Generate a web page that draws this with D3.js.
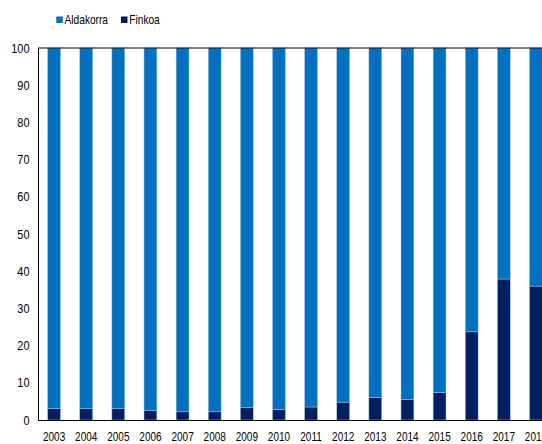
<!DOCTYPE html>
<html><head><meta charset="utf-8">
<script src="https://cdn.jsdelivr.net/npm/d3@7"></script>
<style>body{margin:0;background:#fff}svg{display:block}text{font-family:"Liberation Sans",Arial,sans-serif;font-size:13px;fill:#000}</style>
</head><body><svg id="c" width="542" height="444"></svg>
<script>
const years = ["2003","2004","2005","2006","2007","2008","2009","2010","2011","2012","2013","2014","2015","2016","2017","2018"];
const finkoa = [3.1,3.1,3.1,2.5,2.2,2.2,3.3,2.8,3.5,4.8,6.1,5.5,7.4,23.7,37.9,36.0];
const aldakorra = finkoa.map(v => 100 - v);
const seriesNames = ["Aldakorra","Finkoa"];
const colors = {Aldakorra:"#0070C0", Finkoa:"#002060"};
const yTicks = [0,10,20,30,40,50,60,70,80,90,100];

const svg = d3.select("#c");
const mLeft = 38, mTop = 48, mBottom = 420, mRight = 552;
const x = d3.scaleBand().domain(years).range([mLeft, mRight]).paddingInner(0.6).paddingOuter(0.3);
const y = d3.scaleLinear().domain([0,100]).range([mBottom, mTop]);

const rows = years.map((yr,i)=>({year:yr, Finkoa:finkoa[i], Aldakorra:aldakorra[i]}));
const stack = d3.stack().keys(["Finkoa","Aldakorra"])(rows);

svg.append("g").selectAll("g").data(stack).join("g")
  .attr("fill", d => colors[d.key])
  .selectAll("rect").data(d => d).join("rect")
  .attr("x", d => x(d.data.year))
  .attr("width", x.bandwidth())
  .attr("y", d => y(d[1]))
  .attr("height", d => y(d[0]) - y(d[1]))
  .attr("stroke", "#9cc3e6").attr("stroke-width", 0.5);

// frame
svg.append("line").attr("x1",mLeft).attr("x2",mRight).attr("y1",mTop).attr("y2",mTop).attr("stroke","#000").attr("stroke-width",1);
const yAxis = svg.append("g").attr("transform",`translate(${mLeft},0)`)
  .call(d3.axisLeft(y).tickValues(yTicks).tickSize(0).tickPadding(8.5));
yAxis.select(".domain").attr("stroke","#000");

const xAxis = svg.append("g").attr("transform",`translate(0,${mBottom})`)
  .call(d3.axisBottom(x).tickSize(0).tickPadding(12));
xAxis.select(".domain").attr("stroke","#000");

// legend
const legend = svg.append("g").attr("class","legend");
const lx = [56.3, 121];
seriesNames.forEach((s,i)=>{
  legend.append("rect").attr("x",lx[i]).attr("y",16.5).attr("width",6.5).attr("height",6.5).attr("fill",colors[s]);
  legend.append("text").attr("x",lx[i]+8.3).attr("y",24).text(s);
});

// condense text to mimic the narrow font of the original
function condense(sel, k){
  sel.each(function(){
    const len = this.getComputedTextLength();
    this.setAttribute("textLength", len*k);
    this.setAttribute("lengthAdjust","spacingAndGlyphs");
  });
}
condense(xAxis.selectAll("text"), 0.77);
condense(yAxis.selectAll("text"), 0.84);
condense(legend.selectAll("text"), 0.78);
</script></body></html>
